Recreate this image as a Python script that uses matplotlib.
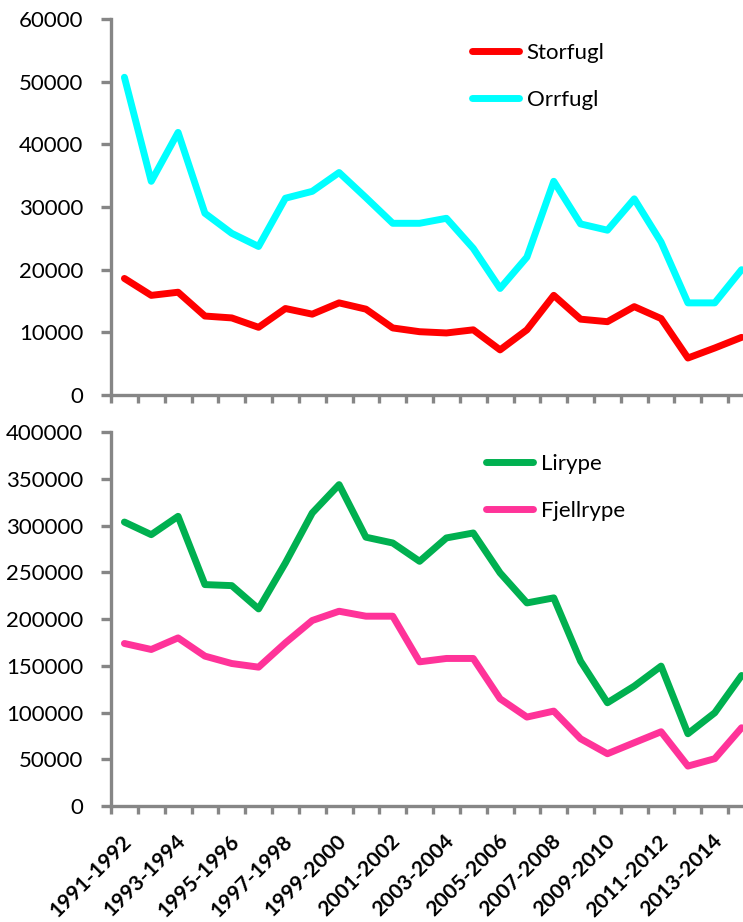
import numpy as np
import matplotlib
matplotlib.use("Agg")
import matplotlib.pyplot as plt
from matplotlib.transforms import ScaledTranslation

plt.rcParams['font.family'] = ['Lato', 'DejaVu Sans']

seasons = [f"{y}-{y + 1}" for y in range(1991, 2015)]

storfugl = [18600, 15900, 16400, 12600, 12300, 10800, 13800, 12900, 14700, 13700,
            10700, 10100, 9900, 10400, 7200, 10400, 15900, 12100, 11700, 14100,
            12200, 5900, 7500, 9200]
orrfugl = [50700, 34100, 41900, 29000, 25800, 23700, 31400, 32500, 35500, 31500,
           27400, 27400, 28200, 23400, 17000, 22000, 34100, 27300, 26300, 31300,
           24400, 14700, 14700, 20000]
lirype = [303700, 290200, 309800, 236800, 235700, 210800, 260000, 313400, 343700, 287500,
          281300, 261700, 286700, 292000, 249300, 217200, 222600, 154900, 110400, 128200,
          149600, 77300, 99700, 139600]
fjellrype = [173800, 167400, 179800, 160300, 152400, 148500, 174500, 198400, 208300, 203000,
             203000, 154200, 157800, 157800, 114700, 95100, 101500, 71900, 55900, 67700,
             79400, 42700, 50600, 83700]

top_ticks = [0, 10000, 20000, 30000, 40000, 50000, 60000]
bottom_ticks = [0, 50000, 100000, 150000, 200000, 250000, 300000, 350000, 400000]

W, H = 743, 922
DPI = 100
fig = plt.figure(figsize=(W / DPI, H / DPI), dpi=DPI)

def box(x0, y0, x1, y1):
    return [x0 / W, 1 - y1 / H, (x1 - x0) / W, (y1 - y0) / H]

ax_top = fig.add_axes(box(111, 19, 755, 395))
ax_bot = fig.add_axes(box(111, 432, 755, 806))

gray = '#868686'
x = np.arange(len(seasons))
lw = 5.0

def style(ax, ticks):
    for s in ['top', 'right']:
        ax.spines[s].set_visible(False)
    for s in ['left', 'bottom']:
        ax.spines[s].set_color(gray)
        ax.spines[s].set_linewidth(2.4)
    ax.set_xlim(-0.5, len(seasons) - 0.5)
    ax.set_ylim(ticks[0], ticks[-1])
    ax.set_yticks(ticks)
    ax.set_yticklabels([str(t) for t in ticks])
    ax.tick_params(axis='y', direction='out', length=7, width=2.4, color=gray,
                   labelsize=16, pad=13)
    ax.set_xticks(np.arange(-0.5, len(seasons), 1.0))
    ax.set_xticklabels([])
    ax.tick_params(axis='x', which='major', direction='out', length=5.5, width=2.4,
                   color=gray)
    ax.patch.set_visible(False)

style(ax_top, top_ticks)
style(ax_bot, bottom_ticks)

kw = dict(linewidth=lw, solid_joinstyle='round', solid_capstyle='round', clip_on=False)
ax_top.plot(x, storfugl, color='#FF0000', label='Storfugl', **kw)
ax_top.plot(x, orrfugl, color='#00FFFF', label='Orrfugl', **kw)
ax_bot.plot(x, lirype, color='#00B050', label='Lirype', **kw)
ax_bot.plot(x, fjellrype, color='#FF3399', label='Fjellrype', **kw)

# every second season labelled under the lower panel
ax_bot.set_xticks(x[::2], minor=True)
ax_bot.set_xticklabels(seasons[::2], minor=True, rotation=45, ha='right',
                       rotation_mode='anchor', fontsize=15, fontweight='bold')
ax_bot.tick_params(axis='x', which='minor', length=0, pad=18.5)

def legend(ax, x0, y0):
    leg = ax.legend(loc='upper left', bbox_to_anchor=(x0 / W, 1 - y0 / H),
                    bbox_transform=fig.transFigure, frameon=False, fontsize=16,
                    handlelength=2.1, handletextpad=0.36, labelspacing=1.2,
                    borderpad=0, borderaxespad=0)
    for h in leg.get_lines():
        h.set_solid_capstyle('round')

legend(ax_top, 472, 43)
legend(ax_bot, 486, 454)

# size the rotated season labels so each box spans ~90 px, with the first
# one's upper-right corner at (136, 831) in pixels from the top-left
fig.canvas.draw()
renderer = fig.canvas.get_renderer()
labels = [t.label1 for t in ax_bot.xaxis.get_minor_ticks()]
bb = labels[0].get_window_extent(renderer)
size = 15 * 89.5 / bb.width
for lab in labels:
    lab.set_fontsize(size)
fig.canvas.draw()
bb = labels[0].get_window_extent(renderer)
dx = 136 - bb.x1
dy = (H - 831) - bb.y1
shift = ScaledTranslation(dx / DPI, dy / DPI, fig.dpi_scale_trans)
for lab in labels:
    lab.set_transform(lab.get_transform() + shift)

fig.savefig('out.png', dpi=DPI)
